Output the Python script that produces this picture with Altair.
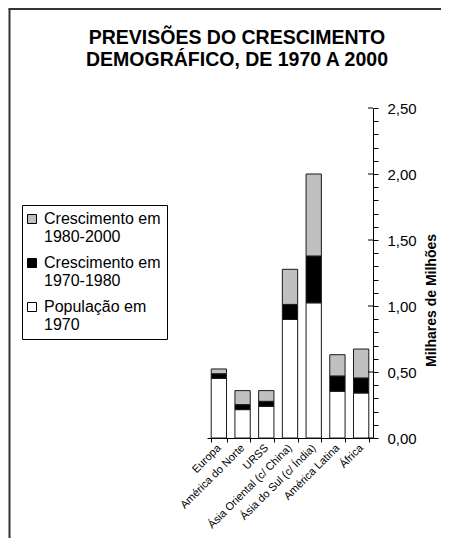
import altair as alt
import pandas as pd

regions = ["Europa", "América do Norte", "URSS", "Ásia Oriental (c/ China)",
           "Ásia do Sul (c/ Índia)", "América Latina", "África"]
pop_1970 = [0.452, 0.215, 0.240, 0.898, 1.024, 0.354, 0.341]
growth_70_80 = [0.035, 0.038, 0.038, 0.114, 0.355, 0.116, 0.114]
growth_80_00 = [0.036, 0.106, 0.081, 0.266, 0.621, 0.161, 0.219]
series = ["Crescimento em 1980-2000", "Crescimento em 1970-1980", "População em 1970"]
colors = ["#C0C0C0", "#000000", "#FFFFFF"]
y_ticks = [round(i * 0.1, 1) for i in range(26)]
y_major = [0.0, 0.5, 1.0, 1.5, 2.0, 2.5]

rows = []
for i, r in enumerate(regions):
    rows.append({"regiao": r, "serie": series[2], "valor": pop_1970[i], "ord": 0})
    rows.append({"regiao": r, "serie": series[1], "valor": growth_70_80[i], "ord": 1})
    rows.append({"regiao": r, "serie": series[0], "valor": growth_80_00[i], "ord": 2})
df = pd.DataFrame(rows)

FONT = "Liberation Sans"
yscale = alt.Scale(domain=[0, 2.5], nice=False)
yaxis = alt.Axis(orient="right", values=y_ticks,
                 labelExpr="round(datum.value*10) % 5 == 0 ? replace(format(datum.value, '.2f'), '.', ',') : ''",
                 tickSize=5, tickColor="black", domainColor="black", grid=False,
                 labelFontSize=15, labelFont=FONT, labelColor="black",
                 labelPadding=9, labelOverlap=False, labelFlush=False,
                 title="Milhares de Milhões", titleFontSize=14, titleFont=FONT,
                 titleFontWeight="bold", titleColor="black", titleAngle=270,
                 titleX=58, titleY=192, titleAlign="center",
                 titleBaseline="middle")

bars = alt.Chart(df).mark_bar(stroke="#1a1a1a", strokeWidth=1).encode(
    x=alt.X("regiao:N", sort=regions, title=None,
            scale=alt.Scale(paddingInner=0.355, paddingOuter=0.1775),
            axis=alt.Axis(labelAngle=-45, labelAlign="right", labelBaseline="middle",
                          labelFontSize=11, labelFont=FONT, labelColor="black",
                          labelPadding=4, tickBand="extent", tickSize=4,
                          tickColor="black", domainColor="black", labelLimit=200)),
    y=alt.Y("valor:Q", stack="zero", scale=yscale, axis=yaxis),
    color=alt.Color("serie:N", scale=alt.Scale(domain=series, range=colors),
                    legend=alt.Legend(orient="none", legendX=-185, legendY=97,
                                      title=None, strokeColor="black", padding=6,
                                      labelFontSize=16, labelFont=FONT, labelColor="black",
                                      labelExpr="[slice(datum.label, 0, lastindexof(datum.label, ' ')), slice(datum.label, lastindexof(datum.label, ' ') + 1)]",
                                      labelLimit=300, labelOffset=4, symbolOffset=-4,
                                      symbolType="square", symbolSize=81,
                                      symbolStrokeColor="black", symbolStrokeWidth=1,
                                      rowPadding=10)),
    order=alt.Order("ord:Q", sort="ascending"),
)

major_df = pd.DataFrame({"v": y_major})
inner_ticks = alt.Chart(major_df).mark_rule(color="black", strokeWidth=1).encode(
    y=alt.Y("v:Q", scale=yscale, axis=yaxis),
    x=alt.value(161), x2=alt.value(166),
)

frame_df = pd.DataFrame({"a": [0]})
frame_left = alt.Chart(frame_df).mark_rule(color="#333333", strokeWidth=2).encode(
    x=alt.value(-197.5), y=alt.value(-99), y2=alt.value(430))
frame_top = alt.Chart(frame_df).mark_rule(color="#333333", strokeWidth=2).encode(
    x=alt.value(-198.5), x2=alt.value(240), y=alt.value(-99))

chart = alt.layer(bars, inner_ticks, frame_left, frame_top).properties(
    width=166, height=330,
    background="white",
    autosize=alt.AutoSizeParams(type="none"),
    padding={"left": 199, "top": 100, "right": 68, "bottom": 104},
    title=alt.TitleParams(text=["PREVISÕES DO CRESCIMENTO", "DEMOGRÁFICO, DE 1970 A 2000"],
                          fontSize=19.5, font=FONT, fontWeight="bold", color="black",
                          lineHeight=22, anchor="middle", dx=-53, dy=4, offset=-58),
).configure_view(stroke=None)

chart.save("out.html", embed_options={"renderer": "svg", "actions": False})
